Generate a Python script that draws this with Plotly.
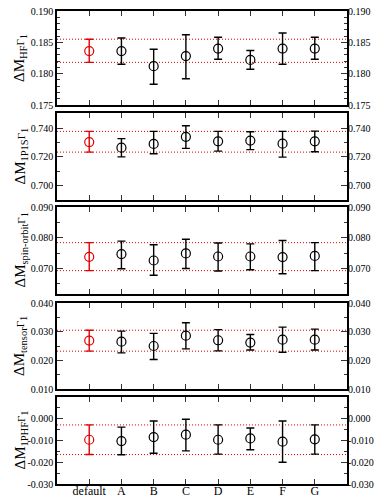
import plotly.graph_objects as go

categories = ["default", "A", "B", "C", "D", "E", "F", "G"]

hf = [0.1836, 0.1836, 0.1812, 0.1828, 0.1840, 0.1822, 0.1840, 0.1840]
hf_hi = [0.1855, 0.1857, 0.1839, 0.1862, 0.1858, 0.1837, 0.1865, 0.1858]
hf_lo = [0.1818, 0.1815, 0.1783, 0.1792, 0.1823, 0.1807, 0.1815, 0.1823]

p1s = [0.7303, 0.7264, 0.7290, 0.7339, 0.7308, 0.7313, 0.7292, 0.7308]
p1s_hi = [0.7377, 0.7327, 0.7377, 0.7416, 0.7377, 0.7375, 0.7377, 0.7379]
p1s_lo = [0.7233, 0.7200, 0.7222, 0.7259, 0.7240, 0.7250, 0.7198, 0.7236]

so = [0.0738, 0.0747, 0.0726, 0.0749, 0.0739, 0.0739, 0.0737, 0.0741]
so_hi = [0.0784, 0.0789, 0.0777, 0.0795, 0.0783, 0.0780, 0.0791, 0.0784]
so_lo = [0.0693, 0.0699, 0.0678, 0.0700, 0.0692, 0.0696, 0.0683, 0.0693]

ten = [0.0269, 0.0265, 0.0250, 0.0286, 0.0270, 0.0262, 0.0272, 0.0272]
ten_hi = [0.0305, 0.0302, 0.0294, 0.0331, 0.0307, 0.0290, 0.0316, 0.0309]
ten_lo = [0.0232, 0.0226, 0.0203, 0.0240, 0.0233, 0.0236, 0.0228, 0.0236]

phf = [-0.0097, -0.0103, -0.0085, -0.0074, -0.0097, -0.0091, -0.0106, -0.0095]
phf_hi = [-0.0029, -0.0039, -0.0011, -0.0003, -0.0029, -0.0043, -0.0011, -0.0029]
phf_lo = [-0.0165, -0.0166, -0.0159, -0.0148, -0.0163, -0.0143, -0.0200, -0.0163]

# tick labels of each panel
hf_ticks = [0.175, 0.180, 0.185, 0.190]
p1s_ticks = [0.700, 0.720, 0.740]
so_ticks = [0.070, 0.080, 0.090]
ten_ticks = [0.010, 0.020, 0.030, 0.040]
phf_ticks = [-0.030, -0.020, -0.010, 0.000]

titles = [
    "ΔM<sub>HF</sub><span style='font-size:11px'>Γ</span><sub>1</sub>",
    "ΔM<sub>1P1S</sub><span style='font-size:11px'>Γ</span><sub>1</sub>",
    "ΔM<sub>spin-orbit</sub><span style='font-size:11px'>Γ</span><sub>1</sub>",
    "ΔM<sub>tensor</sub><span style='font-size:11px'>Γ</span><sub>1</sub>",
    "ΔM<sub>1PHF</sub><span style='font-size:11px'>Γ</span><sub>1</sub>",
]

panels = [
    (hf, hf_hi, hf_lo, [0.175, 0.190], hf_ticks, 0.001),
    (p1s, p1s_hi, p1s_lo, [0.690, 0.7505], p1s_ticks, 0.01),
    (so, so_hi, so_lo, [0.0617, 0.090], so_ticks, 0.005),
    (ten, ten_hi, ten_lo, [0.010, 0.040], ten_ticks, 0.005),
    (phf, phf_hi, phf_lo, [-0.030, 0.0099], phf_ticks, 0.005),
]

FONT = "Liberation Serif"

W, H = 381, 497
ml, mr, mt, mb = 57, 34, 11, 13
ph = H - mt - mb
pix = [(11, 105), (113, 200), (207, 294), (303, 389), (397, 484)]
domains = [[(H - mb - b) / ph, (H - mb - t) / ph] for t, b in pix]
pw = W - ml - mr

RED = "#e00000"
BLACK = "#000000"
xs = list(range(len(categories)))

fig = go.Figure()
layout = dict(
    width=W, height=H, autosize=False,
    margin=dict(l=ml, r=mr, t=mt, b=mb, pad=0, autoexpand=False),
    plot_bgcolor="white", paper_bgcolor="white",
    showlegend=False,
    font=dict(family=FONT, color="#000", size=10),
)
shapes = []
annotations = []

for i, (vals, hi, lo, rng, tks, mdt) in enumerate(panels):
    n = i + 1
    xa = "x" if n == 1 else f"x{n}"
    ya = "y" if n == 1 else f"y{n}"
    yr = f"y{n + 5}"
    colors = [RED] + [BLACK] * (len(vals) - 1)
    for j in range(len(vals)):
        fig.add_trace(go.Scatter(
            x=[xs[j]], y=[vals[j]], xaxis=xa, yaxis=ya, mode="markers",
            marker=dict(symbol="circle-open", size=9, color=colors[j], line=dict(width=1.2, color=colors[j])),
            error_y=dict(type="data", symmetric=False,
                         array=[hi[j] - vals[j]], arrayminus=[vals[j] - lo[j]],
                         color=colors[j], thickness=1.4, width=4),
            cliponaxis=False,
        ))
    fig.add_trace(go.Scatter(x=[None], y=[None], xaxis=xa, yaxis=yr, mode="markers", hoverinfo="skip"))
    for yv in (hi[0], lo[0]):
        shapes.append(dict(type="line", xref=f"{xa} domain", yref=ya, x0=0, x1=1, y0=yv, y1=yv,
                           line=dict(color=RED, width=1, dash="1px,2px"), layer="below"))
    ticktext = [f"{v:.3f}" for v in tks]
    axkey = "xaxis" if n == 1 else f"xaxis{n}"
    yakey = "yaxis" if n == 1 else f"yaxis{n}"
    layout[axkey] = dict(
        domain=[0, 1], anchor=ya, range=[-1, 8], tickmode="array", tickvals=xs,
        ticktext=categories, showticklabels=(n == 5), ticks="inside", ticklen=5,
        tickcolor="#333", tickwidth=1.3, mirror="ticks", showline=True, linecolor="#000",
        linewidth=1.5, showgrid=False, zeroline=False, automargin=False,
        ticklabelstandoff=-5,
        tickfont=dict(size=12, family=FONT, color="#000"),
    )
    layout[yakey] = dict(
        domain=domains[i], anchor=xa, range=rng, tickmode="array", tickvals=tks, ticktext=ticktext,
        ticks="inside", ticklen=6, tickwidth=1.3, tickcolor="#333", mirror="ticks",
        showline=True, linecolor="#000", linewidth=1.5, showgrid=False, zeroline=False,
        automargin=False,
        minor=dict(dtick=mdt, tick0=tks[0], ticks="inside", ticklen=3, tickcolor="#333", tickwidth=1),
        tickfont=dict(size=10, family=FONT, color="#000"),
    )
    layout[f"yaxis{n + 5}"] = dict(
        overlaying=ya, side="right", anchor=xa, range=rng, tickmode="array",
        tickvals=tks, ticktext=ticktext, ticks="", showline=False, showgrid=False, zeroline=False,
        automargin=False,
        tickfont=dict(size=10, family=FONT, color="#000"),
    )
    annotations.append(dict(
        xref="paper", yref="paper", x=(20 - 57) / pw, y=sum(domains[i]) / 2,
        text=titles[i], textangle=-90, showarrow=False, xanchor="center", yanchor="middle",
        font=dict(size=15, color="#000", family=FONT),
    ))

layout["shapes"] = shapes
layout["annotations"] = annotations
fig.update_layout(**layout)
fig.write_html("out.html", config={"displayModeBar": False},
               post_script="document.body.style.margin='0';document.body.style.overflow='hidden';")
